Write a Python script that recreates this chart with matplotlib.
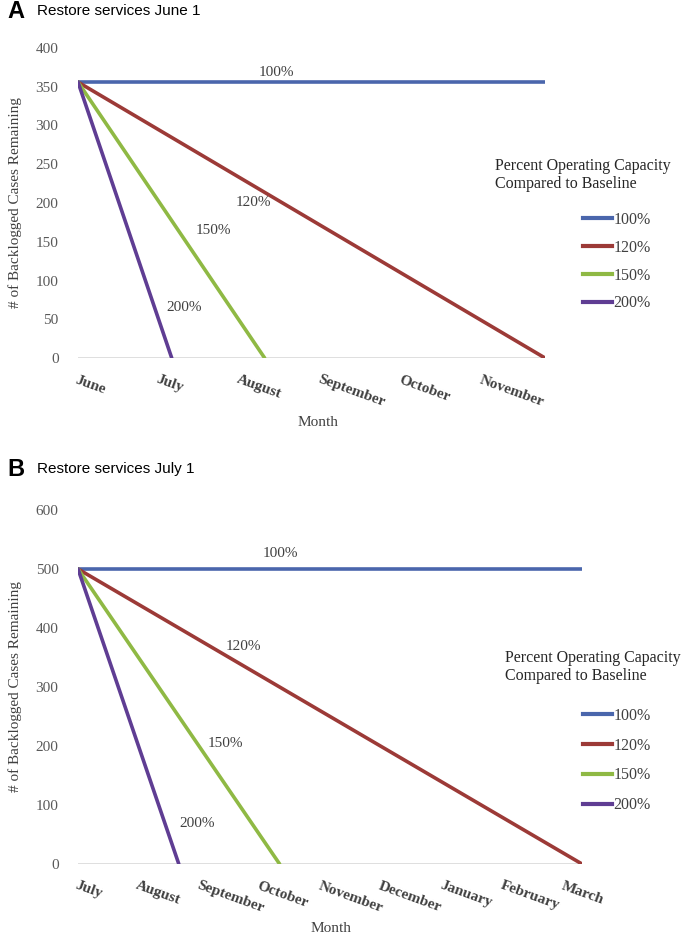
import matplotlib.pyplot as plt
from matplotlib.lines import Line2D

plt.rcParams['font.family'] = 'Liberation Serif'

# data (x in months after restart, y in backlogged cases)
series = ['100%', '120%', '150%', '200%']
colors = ['#4A66AC', '#9C3A37', '#8FB944', '#5F3D93']

months_a = ['June', 'July', 'August', 'September', 'October', 'November']
start_a = 356
end_month_a = [5.78, 5.78, 2.31, 1.16]
end_value_a = [356, 0, 0, 0]

months_b = ['July', 'August', 'September', 'October', 'November', 'December',
            'January', 'February', 'March']
start_b = 500
end_month_b = [8.30, 8.30, 3.32, 1.66]
end_value_b = [500, 0, 0, 0]

W, H = 688, 934
fig = plt.figure(figsize=(W / 100, H / 100), dpi=100)


def fx(x):
    return x / W


def fy(y):
    return 1 - y / H


def panel(left, right, top, bottom, months, start, end_month, end_value, ymax, ystep,
          label_xy, letter, title, title_y, leg_x, leg_title_y, leg_top, leg_space, month_xy):
    ax = fig.add_axes([fx(left), fy(bottom), fx(right - left), (bottom - top) / H])
    for s, c, em, ev in zip(series, colors, end_month, end_value):
        ax.plot([0, em], [start, ev], color=c, lw=2.6, solid_capstyle='round', zorder=3)
    ax.axhline(0, color='#D9D9D9', lw=1.2, zorder=1)
    ax.set_xlim(0, end_month[0])
    ax.set_ylim(0, ymax)
    ax.set_yticks(range(0, ymax + 1, ystep))
    ax.set_xticks(range(len(months)))
    ax.set_xticklabels(months, rotation=-20, ha='left', va='top', rotation_mode='anchor',
                       fontweight='bold', fontsize=11, color='#404040')
    ax.tick_params(axis='y', length=0, pad=14, labelsize=11, labelcolor='#595959')
    ax.tick_params(axis='x', length=0, pad=11)
    for sp in ax.spines.values():
        sp.set_visible(False)
    ax.set_ylabel('# of Backlogged Cases Remaining', fontsize=11, color='#404040')
    ax.yaxis.set_label_coords((22 - left) / (right - left), 0.5)
    for s, (lx, ly) in zip(series, label_xy):
        ax.text(lx, ly, s, ha='center', va='center', fontsize=11, color='#404040')

    fig.text(fx(7), fy(title_y), letter, fontfamily='Liberation Sans', fontweight='bold',
             fontsize=17, va='center')
    fig.text(fx(37), fy(title_y - 1), title, fontfamily='Liberation Sans', fontsize=11,
             va='center')
    fig.text(fx(month_xy[0]), fy(month_xy[1]), 'Month', ha='center', va='center',
             fontsize=11, color='#404040')
    fig.text(fx(leg_x), fy(leg_title_y), 'Percent Operating Capacity\nCompared to Baseline',
             fontsize=11.5, va='center', ha='left', color='#262626', linespacing=1.15)
    handles = [Line2D([], [], color=c, lw=3) for c in colors]
    leg = ax.legend(handles, series, loc='upper left', frameon=False, fontsize=11.5,
                    bbox_to_anchor=(fx(583), fy(leg_top)), bbox_transform=fig.transFigure,
                    borderpad=0, borderaxespad=0, handlelength=1.8, handletextpad=0.1,
                    labelspacing=leg_space)
    for t in leg.get_texts():
        t.set_color('#404040')
    return ax


panel(78, 545, 48, 358, months_a, start_a, end_month_a, end_value_a, 400, 50,
      [(2.46, 369), (2.17, 200), (1.68, 165), (1.31, 65)],
      'A', 'Restore services June 1', 12,
      495, 175, 212, 0.74, (318, 423))

panel(78, 582, 510, 864, months_b, start_b, end_month_b, end_value_b, 600, 100,
      [(3.34, 527), (2.73, 369), (2.42, 205), (1.96, 69)],
      'B', 'Restore services July 1', 470,
      505, 667, 708, 0.86, (331, 928))

fig.savefig('out.png', dpi=100)
